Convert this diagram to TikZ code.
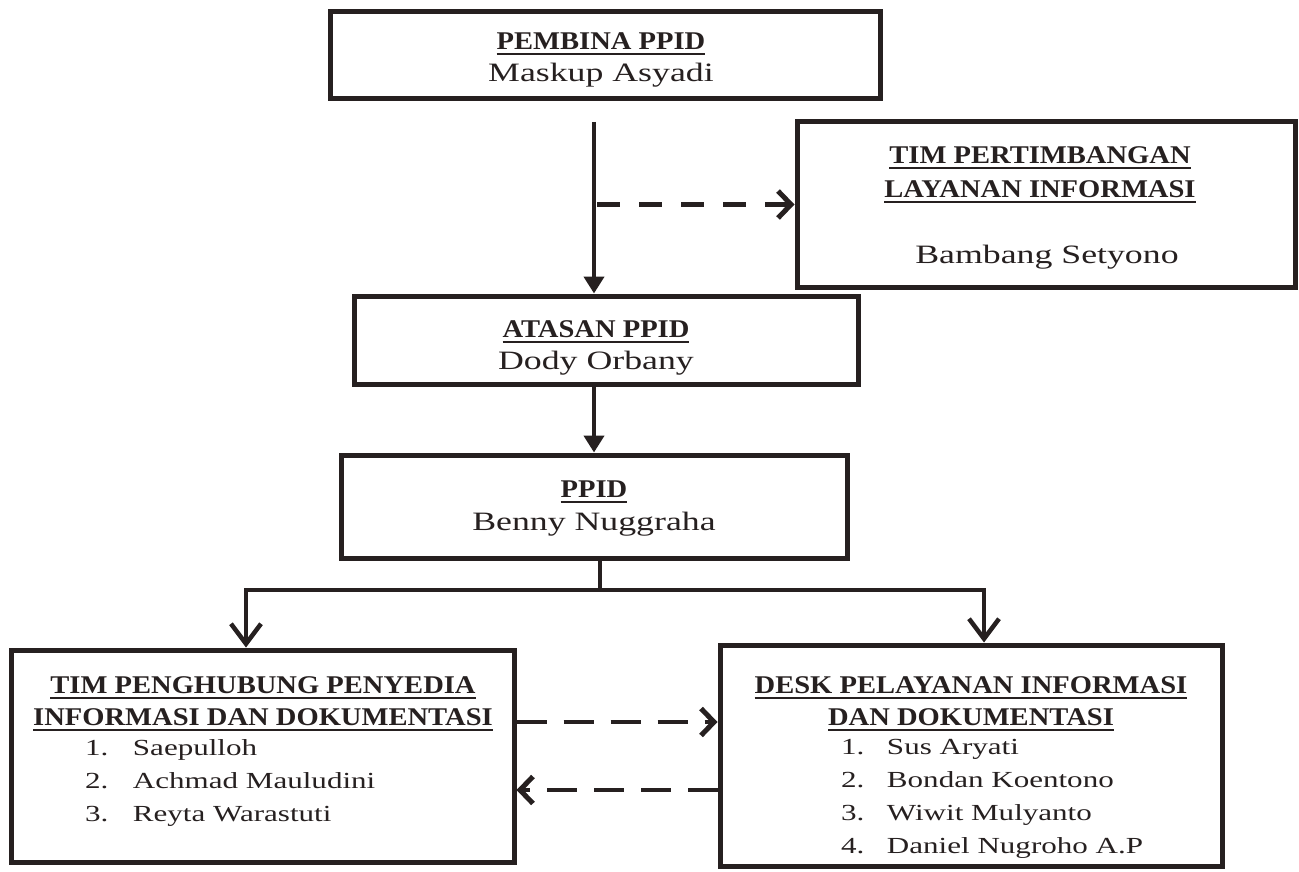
\documentclass[tikz,border=0pt]{standalone}
\usepackage{fontspec}
\setmainfont[FakeStretch=1.35, BoldFeatures={FakeStretch=1.12}]{Liberation Serif}
\usetikzlibrary{arrows.meta}
\definecolor{ink}{RGB}{38,32,32}
\begin{document}
\begin{tikzpicture}[x=1pt,y=-1pt,
  box/.style={draw=ink, line width=5pt, inner sep=0pt},
  txt/.style={font=\fontsize{26.5}{33}\selectfont, text=ink, inner sep=0pt, outer sep=0pt, anchor=base},
  ttl/.style={txt, font=\fontsize{25.5}{33}\selectfont\bfseries},
  lst/.style={txt, font=\fontsize{23}{33}\selectfont, anchor=base west},
  uline/.style={draw=ink, line width=2pt},
  line/.style={draw=ink, line width=4.5pt},
  farr/.style={line, -{Triangle[length=17pt,width=20pt]}},
  barr/.style={line, line join=miter, -{Straight Barb[length=20pt,width=30pt,line width=4.5pt]}},
  darr/.style={line, -{Straight Barb[length=13pt,width=27pt,line width=5pt]}},
]
\useasboundingbox[fill=white] (0,0) rectangle (1299,872);

% boxes
\node[box, minimum width=550pt, minimum height=87pt] (pembina) at (605,55.5) {};
\node[box, minimum width=498pt, minimum height=165pt] (tim) at (1046,204.5) {};
\node[box, minimum width=504pt, minimum height=88pt] (atasan) at (606,340) {};
\node[box, minimum width=506pt, minimum height=103pt] (ppid) at (594,506.5) {};
\node[box, minimum width=503pt, minimum height=212pt] (tph) at (262.5,756) {};
\node[box, minimum width=502pt, minimum height=221pt] (dpi) at (971,755.5) {};

% texts
\node[ttl] (t1a) at (601,50) {PEMBINA PPID};
\node[txt] (t1b) at (601,82) {Maskup Asyadi};
\node[ttl] (t2a) at (1040,164) {TIM PERTIMBANGAN};
\node[ttl] (t2b) at (1040,197) {LAYANAN INFORMASI};
\node[txt] (t2c) at (1047,263) {Bambang Setyono};
\node[ttl] (t3a) at (596,337) {ATASAN PPID};
\node[txt] (t3b) at (596,369) {Dody Orbany};
\node[ttl] (t4a) at (594,497) {PPID};
\node[txt] (t4b) at (594,530) {Benny Nuggraha};
\node[ttl] (t5a) at (263,693) {TIM PENGHUBUNG PENYEDIA};
\node[ttl] (t5b) at (263,725) {INFORMASI DAN DOKUMENTASI};
\node[lst] (t5c) at (85,755) {\begin{tabular}[t]{@{}p{48pt}@{}l@{}}1.&Saepulloh\\2.&Achmad Mauludini\\3.&Reyta Warastuti\end{tabular}};
\node[ttl] (t6a) at (971,693) {DESK PELAYANAN INFORMASI};
\node[ttl] (t6b) at (971,725) {DAN DOKUMENTASI};
\node[lst] (t6c) at (841,754) {\begin{tabular}[t]{@{}p{46pt}@{}l@{}}1.&Sus Aryati\\2.&Bondan Koentono\\3.&Wiwit Mulyanto\\4.&Daniel Nugroho A.P\end{tabular}};

\foreach \n in {t1a,t2a,t2b,t3a,t4a,t5a,t5b,t6a,t6b}
  \draw[uline] ([yshift=-4.5pt]\n.base west) -- ([yshift=-4.5pt]\n.base east);

% connectors
\coordinate (t0) at (594,122);
\coordinate (j) at (600,590);
\coordinate (jl) at (246,590);
\coordinate (jr) at (984,590);
\coordinate (d1) at (519,722);
\coordinate (d2) at (517,790);

\draw[farr] (t0) -- (atasan.north -| t0);
\draw[darr, dash pattern=on 23pt off 19pt] ([xshift=3pt]tim.west -| t0) -- (tim.west);
\draw[farr] (atasan.south -| t0) -- (ppid.north -| t0);
\draw[line] (ppid.south -| j) -- (j);
\draw[barr] (j) -| (tph.north -| jl);
\draw[barr] (j) -| (dpi.north -| jr);
\draw[darr, dash pattern=on 30pt off 17pt] (tph.east |- d1) -- (dpi.west |- d1);
\draw[darr, dash pattern=on 30pt off 17pt] (dpi.west |- d2) -- (tph.east |- d2);
\end{tikzpicture}
\end{document}
